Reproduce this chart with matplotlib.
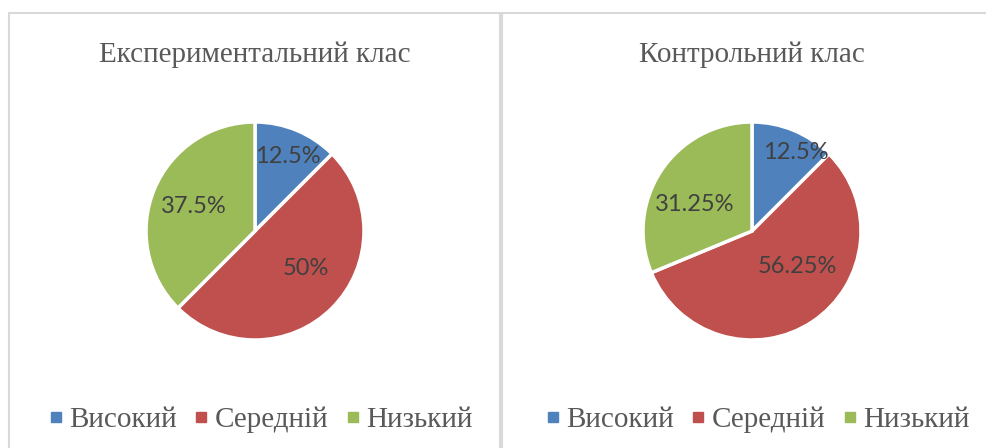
import numpy as np
import matplotlib
matplotlib.use('Agg')
import matplotlib.pyplot as plt
from matplotlib.patches import Rectangle
from matplotlib.lines import Line2D

# дані
categories = ['Високий', 'Середній', 'Низький']
exp_values = [12.5, 50, 37.5]
ctrl_values = [12.5, 56.25, 31.25]
titles = ['Експериментальний клас', 'Контрольний клас']
colors = ['#4F81BD', '#C0504D', '#9BBB59']

# розміщення підписів (кут, частка радіуса) як у Excel "найкраще розміщення"
label_pos = [[(66, 0.75), (-36, 0.58), (158, 0.61)],
             [(61, 0.82), (-38, 0.53), (155, 0.58)]]

W, H = 986, 448
fig = plt.figure(figsize=(W / 100, H / 100), dpi=100)

serif = 'Liberation Serif'
grey = '#595959'

# рамки панелей
for x0, x1 in [(9, 500), (502, 1000)]:
    fig.add_artist(Rectangle((x0 / W, -0.1), (x1 - x0) / W, 1.1 - 13 / H,
                             transform=fig.transFigure, fill=False,
                             edgecolor='#d9d9d9', lw=1.5))

R = 109
lim = 1.2
centers = [255, 752]
for k, (cx, vals, title) in enumerate(zip(centers, [exp_values, ctrl_values], titles)):
    half = R * lim
    ax = fig.add_axes([(cx - half) / W, 1 - (231 + half) / H, 2 * half / W, 2 * half / H])
    wedges, texts, autotexts = ax.pie(vals, colors=colors, startangle=90, counterclock=False,
                                      wedgeprops=dict(edgecolor='white', linewidth=2.5),
                                      autopct=lambda p: f'{p:g}%', pctdistance=0.65,
                                      textprops=dict(family='Lato', fontsize=17, color='#404040'))
    for t, (ang, r) in zip(autotexts, label_pos[k]):
        a = np.deg2rad(ang)
        t.set_position((r * np.cos(a), r * np.sin(a)))
    ax.set_xlim(-lim, lim)
    ax.set_ylim(-lim, lim)
    ax.set_aspect('equal')
    ax.axis('off')

    fig.text(cx / W, 1 - 62 / H, title, ha='center', va='baseline',
             fontsize=21, family=serif, color=grey)

    handles = [Line2D([], [], marker='s', linestyle='none', markersize=7.5,
                      markerfacecolor=c, markeredgecolor=c) for c in colors]
    fig.legend(handles, categories, loc='center', bbox_to_anchor=((cx + 6) / W, 1 - 420 / H),
               ncol=3, frameon=False, handlelength=0.4, handletextpad=0.25,
               columnspacing=0.65, labelcolor=grey,
               prop=dict(family=serif, size=21))

fig.savefig('out.png', dpi=100)
